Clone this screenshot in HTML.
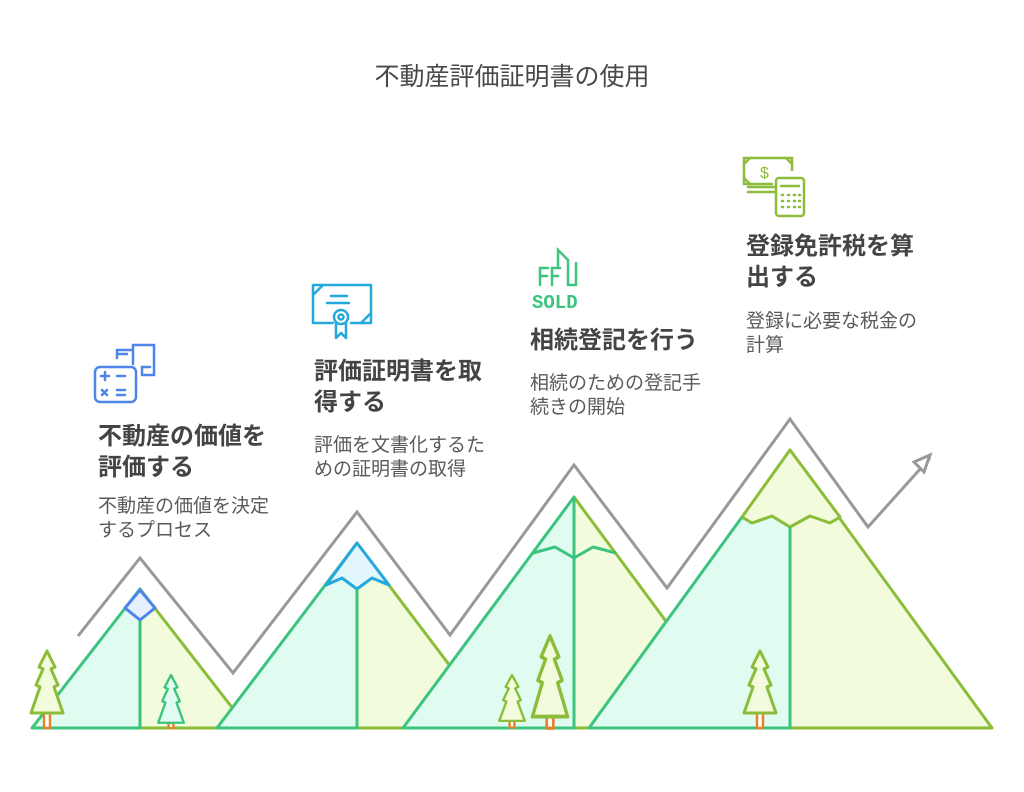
<!DOCTYPE html>
<html><head><meta charset="utf-8">
<style>
html,body{margin:0;padding:0;background:#fff;}
body{width:1024px;height:792px;position:relative;overflow:hidden;font-family:"Liberation Sans","Noto Sans CJK JP",sans-serif;}
.t{position:absolute;white-space:nowrap;}
.title{left:0;width:1024px;text-align:center;top:61px;font-size:25px;color:#484848;line-height:32px;}
.h{font-size:24px;font-weight:bold;color:#444;line-height:31px;}
.d{font-size:19px;color:#5a5a5a;line-height:24px;}
svg{position:absolute;left:0;top:0;}
</style></head><body>
<svg width="1024" height="792" viewBox="0 0 1024 792">
<defs>
<path id="tree" d="M0,0 L8,16 L4,18 L11,34 L7,36 L16,62 L-16,62 L-7,36 L-11,34 L-4,18 L-8,16 Z"/>
</defs>
<polyline points="78,636 140,558 233,673 357,512 450,635 574,465 667,588 790,419 868,527 930,458" fill="none" stroke="#999" stroke-width="3" stroke-linejoin="miter"/>
<polygon points="930,455 914,462 924,472" fill="#fff" stroke="#999" stroke-width="3" stroke-linejoin="miter"/>

<g stroke-width="3" stroke-linejoin="round">
<polygon points="140,589 248,728 140,728" fill="#f2fcdc" stroke="#8cbd3a"/>
<polygon points="140,589 32,728 140,728" fill="#e0fbef" stroke="#3cc47f"/>
<polygon points="140,590 125,608 140,620 155,608" fill="#e6efff" stroke="#4d86e8"/>
<polygon points="357,543 497,728 357,728" fill="#f2fcdc" stroke="#8cbd3a"/>
<polygon points="357,543 217,728 357,728" fill="#e0fbef" stroke="#3cc47f"/>
<polygon points="357,543 326,585 342,578 357,589 372,578 389,585" fill="#e3f6fd" stroke="#25a9dc"/>
<line x1="357" y1="589" x2="357" y2="728" stroke="#3cc47f"/>
<polygon points="574,497 745,728 574,728" fill="#f2fcdc" stroke="#8cbd3a"/>
<polygon points="574,497 403,728 574,728" fill="#e0fbef" stroke="#3cc47f"/>
<polyline points="533,553 555,547 574,558 593,547 616,553" fill="none" stroke="#3cc47f"/>
<polygon points="790,450 992,728 790,728" fill="#f2fcdc" stroke="#8cbd3a"/>
<polygon points="742,517 752,523 772,516 790,527 790,728 589,728" fill="#e0fbef" stroke="#3cc47f"/>
<polygon points="790,450 742,517 752,523 772,516 790,527 810,516 830,523 840,517" fill="#f2fcdc" stroke="#8cbd3a"/>
<line x1="790" y1="527" x2="790" y2="728" stroke="#3cc47f"/>
</g>

<g stroke-width="3" stroke-linejoin="round">
<g transform="translate(47,651)"><rect x="-3" y="62" width="6" height="15" fill="#fff" stroke="#e8822a" stroke-width="2.5"/><use href="#tree" fill="#f2fcdc" stroke="#8cbd3a"/></g>
<g transform="translate(171,675) scale(0.8,0.77)"><rect x="-3" y="62" width="6" height="7" fill="#fff" stroke="#e8822a" stroke-width="3"/><use href="#tree" fill="#e0fbef" stroke="#3cc47f"/></g>
<g transform="translate(512,675) scale(0.8,0.74)"><rect x="-3" y="62" width="6" height="9" fill="#fff" stroke="#e8822a" stroke-width="3"/><use href="#tree" fill="#f2fcdc" stroke="#8cbd3a"/></g>
<g transform="translate(550,636) scale(1.1,1.3)"><rect x="-3" y="62" width="6" height="9" fill="#fff" stroke="#e8822a" stroke-width="2.5"/><use href="#tree" fill="#f2fcdc" stroke="#8cbd3a"/></g>
<g transform="translate(760,651)"><rect x="-3" y="62" width="6" height="15" fill="#fff" stroke="#e8822a" stroke-width="2.5"/><use href="#tree" fill="#f2fcdc" stroke="#8cbd3a"/></g>
</g>

<g fill="none" stroke="#4d86e8" stroke-width="2.5" stroke-linecap="round">
<rect x="95" y="367" width="41" height="35" rx="5"/>
<path d="M101,376h8M105,372v8M117,376h8M102,390l5,5M107,390l-5,5M117,390h8M117,395h8"/>
<path d="M117,358v-8h14M117,354h10M133,364V345h21v30h-12M142,375v-8h8"/>
</g>
<g fill="none" stroke="#25a9dc" stroke-width="2.5" stroke-linecap="round" stroke-linejoin="round">
<path d="M333,323h-20v-38h58v38h-20"/>
<path d="M313,295l10,-10M361,323l10,-10M331,296h16M327,303h22"/>
<circle cx="341" cy="317" r="7"/><circle cx="341" cy="317" r="2.5"/>
<path d="M336,323v15l5,-5l5,5v-15"/>
</g>
<g fill="none" stroke="#3cc47f" stroke-width="2.5" stroke-linecap="round">
<path d="M540,285v-17h8M540,276h7M552,285v-17h8M552,276h6M558,268v-18l10,10M568,260v25h8M576,285v-22"/>
<text x="532" y="308" font-family="Liberation Mono,monospace" font-size="19" fill="#3cc47f" stroke="none" font-weight="bold">SOLD</text>
</g>
<g fill="none" stroke="#8cbd3a" stroke-width="2.5" stroke-linecap="round">
<path d="M772,184h-28v-26h48v12"/>
<path d="M750,158l-6,6M786,158l6,6M744,178l6,6"/>
<path d="M748,187h28M748,192h28"/>
<text x="760" y="178" font-family="Liberation Sans,sans-serif" font-size="16" fill="#8cbd3a" stroke="none">$</text>
<rect x="776" y="178" width="28" height="38" rx="3"/>
<path d="M781,186h18M782,195h1M788,195h1M794,195h1M799,195h1M782,201h1M788,201h1M794,201h1M799,201h1M782,207h1M788,207h1M794,207h1M799,207h1"/>
</g>
</svg>

<div class="t title">不動産評価証明書の使用</div>

<div class="t h" style="left:98px;top:421px;">不動産の価値を<br>評価する</div>
<div class="t d" style="left:98px;top:495px;">不動産の価値を決定<br>するプロセス</div>

<div class="t h" style="left:314px;top:356px;">評価証明書を取<br>得する</div>
<div class="t d" style="left:314px;top:434px;">評価を文書化するた<br>めの証明書の取得</div>

<div class="t h" style="left:530px;top:325px;">相続登記を行う</div>
<div class="t d" style="left:530px;top:372px;">相続のための登記手<br>続きの開始</div>

<div class="t h" style="left:746px;top:231px;">登録免許税を算<br>出する</div>
<div class="t d" style="left:746px;top:310px;">登録に必要な税金の<br>計算</div>
</body></html>
